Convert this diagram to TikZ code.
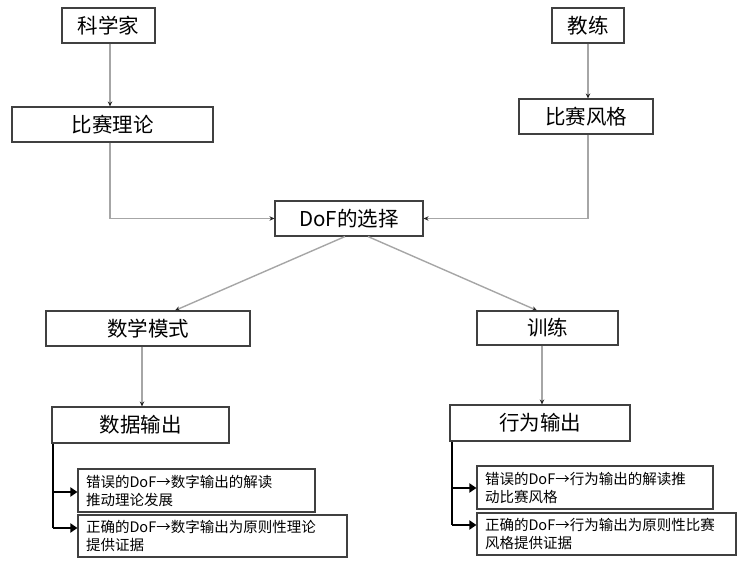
\documentclass[tikz,border=0pt]{standalone}
\usepackage{fontspec}
\setmainfont{Noto Sans CJK SC}
\usetikzlibrary{arrows.meta}
\tikzset{
  bigbox/.style={draw=black!75, line width=1.1pt, fill=white, inner sep=0pt, font=\fontsize{20.5}{24}\selectfont},
  smallbox/.style={draw=black!75, line width=1.1pt, fill=white, inner sep=0pt, text width=#1, align=left, font=\fontsize{14.5}{18}\selectfont},
  conn/.style={draw=black!35, line width=1.4pt, -{Stealth[length=5pt,width=4.5pt,color=black!85]}},
  brk/.style={draw=black, line width=2pt, -{Triangle[length=7pt,width=9pt]}},
  brkline/.style={draw=black, line width=2pt}
}
\begin{document}
\begin{tikzpicture}[x=1pt,y=-1pt]
\useasboundingbox (0,0) rectangle (737,561);
% top row
\node[bigbox, minimum width=93pt, minimum height=35pt] (sci) at (108.5,25.5) {科学家};
\node[bigbox, minimum width=72pt, minimum height=35pt] (coach) at (588,25.5) {教练};
\node[bigbox, minimum width=201pt, minimum height=35pt] (theory) at (112.5,124.5) {比赛理论};
\node[bigbox, minimum width=134pt, minimum height=35pt] (style) at (586,116.5) {比赛风格};
\node[bigbox, minimum width=148pt, minimum height=35pt] (dof) at (349,218.5) {DoF的选择};
\node[bigbox, minimum width=204pt, minimum height=35pt] (math) at (148,328.5) {数学模式};
\node[bigbox, minimum width=141pt, minimum height=34pt] (train) at (547.5,328) {训练};
\node[bigbox, minimum width=177pt, minimum height=36pt] (data) at (140.5,425) {数据输出};
\node[bigbox, minimum width=180pt, minimum height=36pt] (beh) at (540,423) {行为输出};
% small boxes
\node[smallbox=229pt, minimum width=237pt, minimum height=43pt] (lw) at (196.5,490.5) {\hspace*{4pt}错误的DoF→数字输出的解读\\\hspace*{4pt}推动理论发展};
\node[smallbox=261pt, minimum width=269pt, minimum height=42pt] (lr) at (212.5,536) {\hspace*{4pt}正确的DoF→数字输出为原则性理论\\\hspace*{4pt}提供证据};
\node[smallbox=228pt, minimum width=236pt, minimum height=43pt] (rw) at (595,487.5) {\hspace*{4pt}错误的DoF→行为输出的解读推\\\hspace*{4pt}动比赛风格};
\node[smallbox=251pt, minimum width=259pt, minimum height=42pt] (rr) at (606.5,534) {\hspace*{4pt}正确的DoF→行为输出为原则性比赛\\\hspace*{4pt}风格提供证据};
% connectors
\draw[conn] (sci.south -| 110,0) -- (theory.north -| 110,0);
\draw[conn] (coach.south) -- (style.north -| coach.south);
\draw[conn] (theory.south -| 110,0) |- (dof.west);
\draw[conn] (style.south -| 588,0) |- (dof.east);
\draw[conn] (dof.south -| 345,0) -- (math.north -| 175,0);
\draw[conn] (dof.south -| 368,0) -- (train.north -| 537,0);
\draw[conn] (math.south -| 142,0) -- (data.north -| 142,0);
\draw[conn] (train.south -| 542,0) -- (beh.north -| 542,0);
% brackets
\coordinate (lb) at (53,528);
\coordinate (rb) at (452,525);
\draw[brkline] (data.south -| 53,0) -- (lb);
\draw[brk] (53,492) -- (lw.west |- 0,492);
\draw[brk] (lb) -- (lr.west |- lb);
\draw[brkline] (beh.south -| 452,0) -- (rb);
\draw[brk] (452,488) -- (rw.west |- 0,488);
\draw[brk] (rb) -- (rr.west |- rb);
\end{tikzpicture}
\end{document}
